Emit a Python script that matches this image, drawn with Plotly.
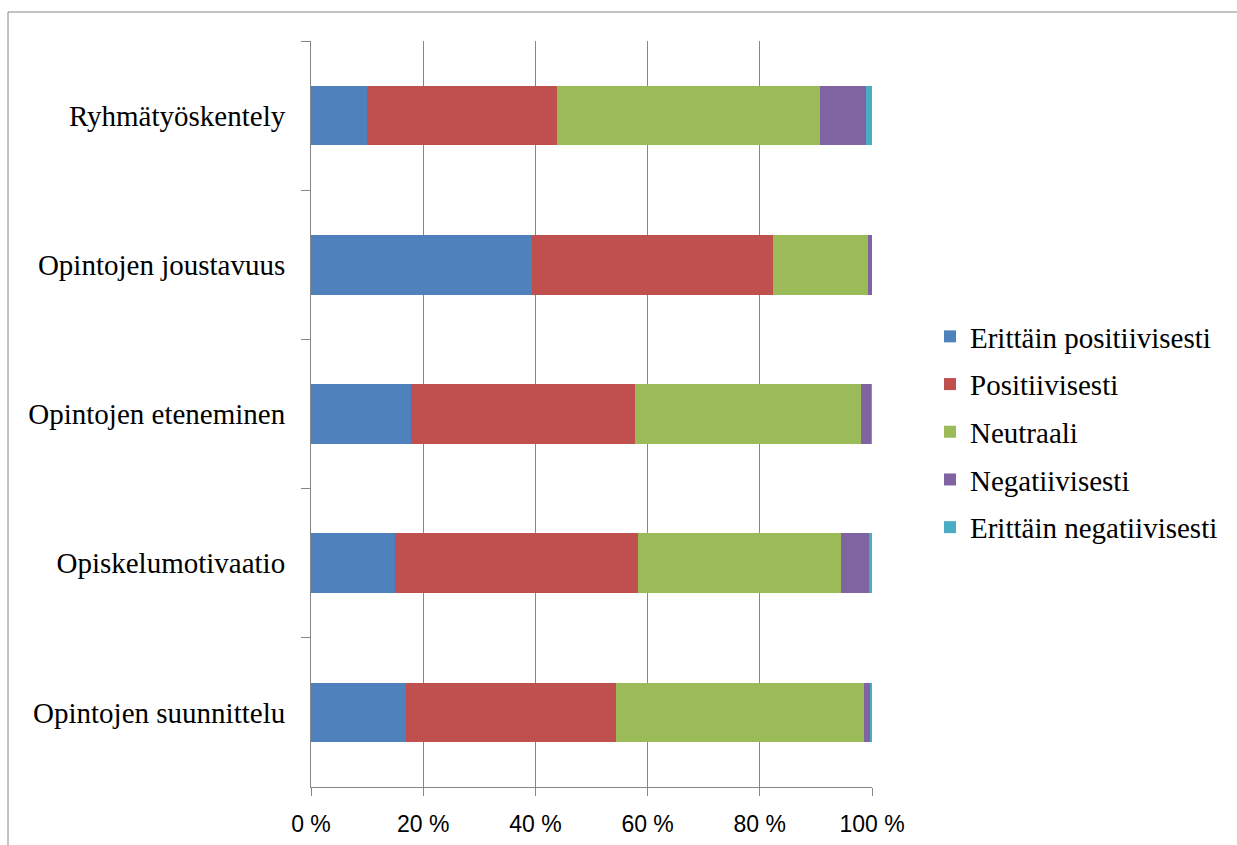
import plotly.graph_objects as go

categories = ["Ryhmätyöskentely", "Opintojen joustavuus", "Opintojen eteneminen",
              "Opiskelumotivaatio", "Opintojen suunnittelu"]
series_names = ["Erittäin positiivisesti", "Positiivisesti", "Neutraali",
                "Negatiivisesti", "Erittäin negatiivisesti"]
erittain_positiivisesti = [10.0, 39.4, 17.9, 15.0, 16.9]
positiivisesti = [33.9, 43.0, 39.9, 43.3, 37.4]
neutraali = [46.9, 16.8, 40.3, 36.2, 44.2]
negatiivisesti = [8.2, 0.8, 1.8, 4.9, 1.3]
erittain_negatiivisesti = [1.0, 0.0, 0.1, 0.6, 0.2]
x_tick_vals = [0, 20, 40, 60, 80, 100]
x_tick_text = ["0 %", "20 %", "40 %", "60 %", "80 %", "100 %"]

colors = ["#4F81BD", "#C0504D", "#9BBB59", "#8064A2", "#4BACC6"]
series_values = [erittain_positiivisesti, positiivisesti, neutraali,
                 negatiivisesti, erittain_negatiivisesti]

W, H = 1237, 845
L, R, T, B = 311, 872, 41, 787

fig = go.Figure()
for name, vals, col in zip(series_names, series_values, colors):
    fig.add_trace(go.Bar(
        y=categories, x=vals, name=name, orientation="h",
        marker=dict(color=col, line=dict(width=0)),
        legendgroup=name,
    ))

grey = "#868686"
fig.update_layout(
    width=W, height=H,
    margin=dict(l=L, r=W - R, t=T, b=H - B, pad=0, autoexpand=False),
    barmode="stack", bargap=0.6,
    plot_bgcolor="white", paper_bgcolor="white",
    legend=dict(
        x=(930 - L) / (R - L), xanchor="left",
        y=(B - 432) / (B - T), yanchor="middle",
        traceorder="grouped", tracegroupgap=7,
        font=dict(family="Liberation Serif", size=29, color="black"),
        itemwidth=30,
    ),
    xaxis=dict(
        range=[0, 100], tickvals=x_tick_vals, ticktext=x_tick_text,
        showgrid=True, gridcolor=grey, gridwidth=1,
        showline=True, linecolor=grey, linewidth=1,
        ticks="outside", ticklen=8, tickcolor=grey, tickwidth=1,
        zeroline=False, fixedrange=True, automargin=False,
        tickfont=dict(family="Liberation Sans", size=23, color="black"),
        ticklabelstandoff=8,
    ),
    yaxis=dict(
        categoryorder="array", categoryarray=categories,
        range=[4.5, -0.5], automargin=False,
        showgrid=False, showline=True, linecolor=grey, linewidth=1,
        ticks="outside", tickson="boundaries", ticklen=9, tickcolor=grey, tickwidth=1,
        tickfont=dict(family="Liberation Serif", size=29, color="black"),
        ticklabelstandoff=19,
    ),
    shapes=[dict(
        type="rect", xref="paper", yref="paper",
        x0=(8 - L) / (R - L), x1=(W + 20 - L) / (R - L),
        y0=(B - (H + 20)) / (B - T), y1=(B - 12) / (B - T),
        line=dict(color=grey, width=1), fillcolor="rgba(0,0,0,0)", layer="below",
    )],
)

fig.write_html("out.html")
